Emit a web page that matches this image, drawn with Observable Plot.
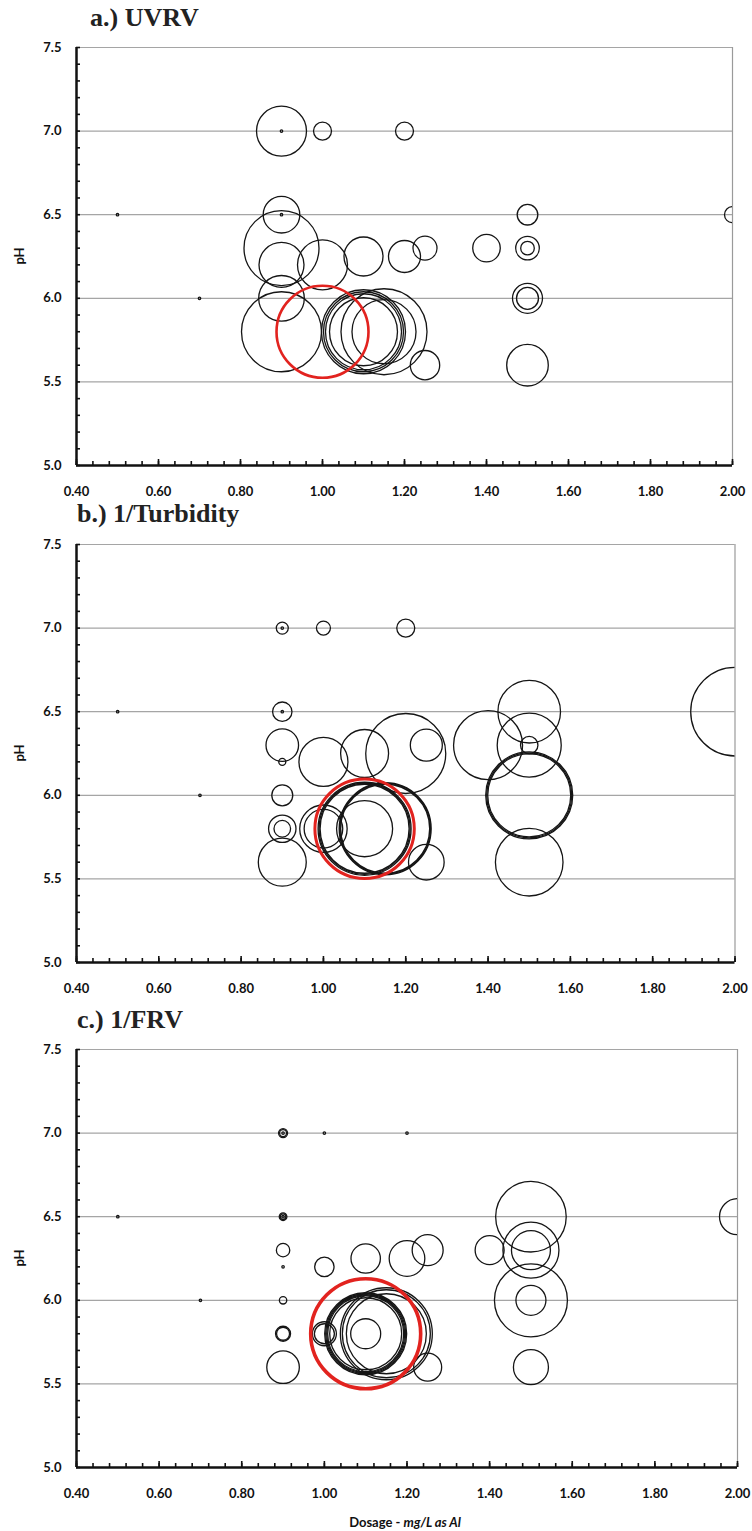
<!DOCTYPE html>
<html>
<head>
<meta charset="utf-8">
<script src="https://cdn.jsdelivr.net/npm/d3@7"></script>
<script src="https://cdn.jsdelivr.net/npm/@observablehq/plot@0.6"></script>
<style>
  html, body { margin: 0; padding: 0; background: #fff; }
  #page { position: relative; width: 752px; height: 1531px; overflow: hidden; font-family: Lato, "Open Sans", sans-serif; }
  .title { position: absolute; font-family: "Liberation Serif", "Times New Roman", serif; font-weight: bold; font-size: 26px; line-height: 1; color: #222; white-space: nowrap; }
  .panel { position: absolute; left: 0; }
  .ylab { position: absolute; font-weight: bold; font-size: 13px; color: #111; transform: translate(-50%, -50%) rotate(-90deg); white-space: nowrap; }
  .xlab { position: absolute; font-weight: bold; font-size: 13px; color: #111; transform: translate(-50%, -50%); white-space: nowrap; }
</style>
</head>
<body>
<div id="page"></div>
<script>
// ---------- axis ticks ----------
const yTickValues = [5.0, 5.5, 6.0, 6.5, 7.0, 7.5];
const xTickValues = [0.4, 0.6, 0.8, 1.0, 1.2, 1.4, 1.6, 1.8, 2.0];
const yMinorTicks = d3.range(0, 26).map(i => 5 + i * 0.1);
const xMinorTicks = d3.range(0, 41).map(i => 0.4 + i * 0.04);

// ---------- a.) UVRV ----------
const uvrvDose = [0.5, 0.7, 0.9, 0.9, 0.9, 1.0, 1.2, 0.9, 0.9, 0.9, 1.0, 1.1, 1.2, 1.25, 0.9, 0.9,
                  1.1, 1.1, 1.1, 1.1, 1.15, 1.15, 1.25, 1.4, 1.5, 1.5, 1.5, 1.5, 1.5, 1.5, 2.0];
const uvrvPH   = [6.5, 6.0, 7.0, 6.5, 7.0, 7.0, 7.0, 6.5, 6.3, 6.2, 6.2, 6.25, 6.25, 6.3, 6.0, 5.8,
                  5.8, 5.8, 5.8, 5.8, 5.8, 5.8, 5.6, 6.3, 6.5, 6.3, 6.3, 6.0, 6.0, 5.6, 6.5];
const uvrvSize = [0.06, 0.06, 0.06, 0.06, 25, 3.24, 3.24, 13.4, 56.25, 20.25, 25, 15.2, 10.24, 5.76, 20.8, 64,
                  70.6, 64, 57.8, 46.2, 74, 41, 8.64, 7.6, 4.24, 5.57, 1.85, 9, 4.84, 17.3, 2.56];
const uvrvBestDose = [1.0];
const uvrvBestPH = [5.8];
const uvrvBestSize = [84.6];

// ---------- b.) 1/Turbidity ----------
const turbDose = [0.5, 0.7, 0.9, 0.9, 0.9, 1.0, 1.2, 0.9, 0.9, 0.9, 1.0, 1.1, 1.2, 1.25, 1.4, 1.5, 1.5, 1.5,
                  1.5, 1.5, 1.5, 1.5, 0.9, 0.9, 0.9, 0.9, 1.0, 1.0, 1.1, 1.1, 1.1, 1.1, 1.15, 1.15, 1.15, 1.25, 2.0];
const turbPH   = [6.5, 6.0, 7.0, 6.5, 7.0, 7.0, 7.0, 6.5, 6.3, 6.2, 6.2, 6.25, 6.25, 6.3, 6.3, 6.5, 6.3, 6.3,
                  6.0, 6.0, 6.0, 5.6, 6.0, 5.8, 5.8, 5.6, 5.8, 5.8, 5.8, 5.8, 5.8, 5.8, 5.8, 5.8, 5.8, 5.6, 6.5];
const turbSize = [0.06, 0.06, 0.06, 0.06, 1.44, 1.96, 3.24, 3.76, 10.6, 0.49, 24, 23, 64, 10.24, 47.6, 39.2, 41, 3.03,
                  68.9, 72.3, 75.7, 45.7, 4.41, 7.5, 2.76, 23, 22.5, 14.9, 79.2, 82.8, 86.5, 31.4, 79.2, 82, 84.6, 12.7, 78.5];
const turbBestDose = [1.1];
const turbBestPH = [5.8];
const turbBestSize = [98.8];

// ---------- c.) 1/FRV ----------
const frvDose = [0.5, 0.7, 1.0, 1.2, 0.9, 0.9, 0.9, 0.9, 0.9, 0.9, 0.9, 0.9, 0.9, 0.9, 0.9, 0.9, 1.0, 1.1, 1.2, 1.25,
                 1.4, 1.5, 1.5, 1.5, 1.5, 1.5, 1.5, 2.0, 1.0, 1.0, 1.1, 1.1, 1.1, 1.1, 1.1, 1.1, 1.15, 1.15, 1.15, 1.25];
const frvPH   = [6.5, 6.0, 7.0, 7.0, 6.2, 7.0, 7.0, 7.0, 6.5, 6.5, 6.5, 6.3, 6.0, 5.8, 5.8, 5.6, 6.2, 6.25, 6.25, 6.3,
                 6.3, 6.5, 6.3, 6.3, 6.0, 6.0, 5.6, 6.5, 5.8, 5.8, 5.8, 5.8, 5.8, 5.8, 5.8, 5.8, 5.8, 5.8, 5.8, 5.6];
const frvSize = [0.06, 0.06, 0.06, 0.06, 0.06, 0.06, 0.81, 0.49, 0.06, 0.58, 0.31, 1.8, 0.55, 1.69, 2.25, 10.6, 3.76, 8.64, 12.7, 9.6,
                 8.4, 49.8, 31.4, 15.2, 53.3, 9, 12.25, 12.96, 5.76, 4, 67.2, 64, 60.8, 57.8, 51.8, 9, 84.6, 77.4, 64, 7.84];
const frvBestDose = [1.1];
const frvBestPH = [5.8];
const frvBestSize = [121];

// ---------- build ----------
const toRows = (dose, ph, size) => dose.map((d, i) => ({dose: d, ph: ph[i], size: size[i]}));

const PLOT_H = 418, MT = 10, MB = 40, ML = 76;

function panel({dose, ph, size, bestDose, bestPH, bestSize, right, redWidth}) {
  const plotW = right - ML;
  const rows = toRows(dose, ph, size);
  const best = toRows(bestDose, bestPH, bestSize);
  const majorX = new Set(xTickValues.map(v => v.toFixed(2)));
  return Plot.plot({
    width: 752,
    height: PLOT_H + MT + MB,
    marginLeft: ML, marginRight: 752 - right, marginTop: MT, marginBottom: MB,
    x: {domain: [0.4, 2.0]},
    y: {domain: [5.0, 7.5]},
    r: {type: "sqrt", domain: [0, 100], range: [0, 50]},
    style: {fontFamily: "Lato, 'Open Sans', sans-serif", fontSize: "13px", fontWeight: "bold", color: "#111", background: "transparent"},
    marks: [
      Plot.ruleY(yTickValues.filter(v => v > 5), {stroke: "#a5a5a5", strokeWidth: 1.2}),
      Plot.ruleX([2.0], {stroke: "#9a9a9a", strokeWidth: 1.2}),
      Plot.dot(rows, {x: "dose", y: "ph", r: "size", stroke: "#151515", strokeWidth: 1.3, fill: "none", clip: true}),
      Plot.dot(best, {x: "dose", y: "ph", r: "size", stroke: "#e2231f", strokeWidth: redWidth, fill: "none", clip: true}),
      Plot.tickY(yMinorTicks, {y: d => d, insetRight: plotW - 4, stroke: "#111", strokeWidth: 1.6}),
      Plot.tickX(xMinorTicks, {x: d => d, insetTop: PLOT_H - (majorX.has(0) ? 5 : 4), stroke: "#111", strokeWidth: 1.6}),
      Plot.tickX(xTickValues, {x: d => d, insetTop: PLOT_H - 6, stroke: "#111", strokeWidth: 1.6}),
      Plot.ruleX([0.4], {stroke: "#111", strokeWidth: 2.5}),
      Plot.ruleY([5.0], {stroke: "#111", strokeWidth: 2.5}),
      Plot.axisY({ticks: yTickValues, tickSize: 0, tickPadding: 15, tickFormat: d3.format(".1f"), label: null}),
      Plot.axisX({ticks: xTickValues, tickSize: 0, tickPadding: 21, tickFormat: d3.format(".2f"), label: null})
    ]
  });
}

const page = document.getElementById("page");

const panels = [
  {title: "a.) UVRV", titleX: 90, titleBase: 25, plotTop: 46.7,
   dose: uvrvDose, ph: uvrvPH, size: uvrvSize, bestDose: uvrvBestDose, bestPH: uvrvBestPH, bestSize: uvrvBestSize, right: 732, redWidth: 2.6},
  {title: "b.) 1/Turbidity", titleX: 77, titleBase: 521, plotTop: 544,
   dose: turbDose, ph: turbPH, size: turbSize, bestDose: turbBestDose, bestPH: turbBestPH, bestSize: turbBestSize, right: 734.5, redWidth: 3},
  {title: "c.) 1/FRV", titleX: 77, titleBase: 1027, plotTop: 1049,
   dose: frvDose, ph: frvPH, size: frvSize, bestDose: frvBestDose, bestPH: frvBestPH, bestSize: frvBestSize, right: 737, redWidth: 3.6}
];

for (const p of panels) {
  const t = document.createElement("div");
  t.className = "title";
  t.textContent = p.title;
  t.style.left = p.titleX + "px";
  t.style.top = (p.titleBase - 20) + "px";
  page.appendChild(t);

  const holder = document.createElement("div");
  holder.className = "panel";
  holder.style.top = (p.plotTop - MT) + "px";
  holder.appendChild(panel(p));
  page.appendChild(holder);

  const yl = document.createElement("div");
  yl.className = "ylab";
  yl.textContent = "pH";
  yl.style.left = "19px";
  yl.style.top = (p.plotTop + PLOT_H / 2) + "px";
  page.appendChild(yl);
}

const xl = document.createElement("div");
xl.className = "xlab";
xl.innerHTML = "Dosage - <i>mg/L as Al</i>";
xl.style.left = "405px";
xl.style.top = "1522px";
page.appendChild(xl);
</script>
</body>
</html>
